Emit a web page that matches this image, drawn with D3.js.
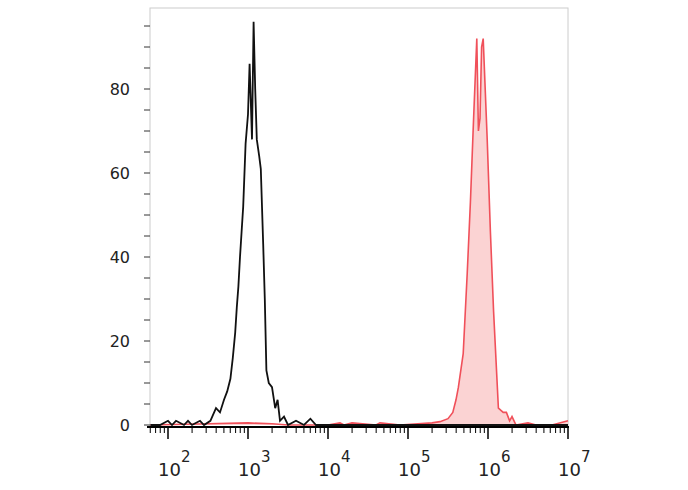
<!DOCTYPE html>
<html><head><meta charset="utf-8">
<script src="https://cdn.jsdelivr.net/npm/d3@7"></script>
<style>body{margin:0;background:#fff}text{font-family:"DejaVu Sans",sans-serif;fill:#222}</style>
</head><body><svg id="c" width="688" height="490"></svg>
<script>
// log10 of fluorescence and event counts
const controlX = [1.78,1.9,2.0,2.05,2.1,2.2,2.25,2.3,2.4,2.45,2.53,2.6,2.65,2.7,2.74,2.78,2.81,2.84,2.86,2.88,2.9,2.92,2.94,2.97,3.0,3.02,3.05,3.07,3.09,3.11,3.14,3.16,3.19,3.21,3.23,3.26,3.3,3.34,3.37,3.4,3.45,3.5,3.6,3.7,3.78,3.85,4.0,5.0,6.0,7.0]
const controlY = [0,0,1,0,1,0,1,0,1,0,1,4,3,6,8,11,16,22,28,33,40,46,52,67,74,86,68,96,80,68,64,61,43,30,13,10,9,4,6,1,2,0,1,0,1.5,0,0,0,0,0]
const stainedX = [1.78,2.5,3.0,3.3,3.5,4.0,4.15,4.2,4.3,4.6,4.65,4.9,5.3,5.4,5.5,5.56,5.6,5.63,5.69,5.74,5.78,5.82,5.86,5.88,5.9,5.92,5.94,5.99,6.03,6.07,6.13,6.19,6.23,6.27,6.3,6.35,6.5,6.6,6.8,7.0]
const stainedY = [0,0.3,0.5,0.3,0,0,0.5,0,0.5,0,0.5,0,0.5,0.8,1.5,3,6,9,17,36,53,73,92,70,73,90,92,68,46,27,4,3,3,1,2,0,0.5,0,0,1]
const yTicks = d3.range(0, 100, 5)
const yLabels = [0, 20, 40, 60, 80]
const decades = [2, 3, 4, 5, 6, 7]

const svg = d3.select("#c")
const x = d3.scaleLinear().domain([1.775, 7]).range([150, 568])
const y = d3.scaleLinear().domain([0, 80]).range([425, 89])

// frame
svg.append("rect").attr("x",150).attr("y",8).attr("width",418).attr("height",419)
  .attr("fill","none").attr("stroke","#ccc")

const line = d3.line().x(d=>x(d[0])).y(d=>y(d[1]))
const area = d3.area().x(d=>x(d[0])).y0(y(0)).y1(d=>y(d[1]))
const stained = stainedX.map((v,i)=>[v,stainedY[i]])
const control = controlX.map((v,i)=>[v,controlY[i]])

svg.append("path").attr("d",area(stained)).attr("fill","#fbd3d3")
svg.append("path").attr("d",line(stained)).attr("fill","none").attr("stroke","#f0505a").attr("stroke-width",1.6)
svg.append("path").attr("d",line(control)).attr("fill","none").attr("stroke","#111").attr("stroke-width",1.8)

// y axis ticks
svg.selectAll(".yt").data(yTicks).enter().append("line")
  .attr("x1",144).attr("x2",150).attr("y1",d=>y(d)).attr("y2",d=>y(d))
  .attr("stroke","#333")
svg.selectAll(".yl").data(yLabels).enter().append("text")
  .attr("x",130).attr("y",d=>y(d)+6).attr("text-anchor","end").attr("font-size",16).text(d=>d)

// x axis
svg.append("line").attr("x1",147).attr("x2",569).attr("y1",427).attr("y2",427).attr("stroke","#000").attr("stroke-width",2)
const minors = []
for (let k = 1; k <= 7; k++) for (let m = 2; m <= 9; m++) {
  const v = k + Math.log10(m); if (v > 1.775 && v < 7) minors.push(v)
}
svg.selectAll(".xm").data(minors).enter().append("line")
  .attr("x1",d=>x(d)).attr("x2",d=>x(d)).attr("y1",427).attr("y2",433).attr("stroke","#000")
svg.selectAll(".xM").data(decades).enter().append("line")
  .attr("x1",d=>x(d)).attr("x2",d=>x(d)).attr("y1",427).attr("y2",439).attr("stroke","#000").attr("stroke-width",1.5)
const lab = svg.selectAll(".xl").data(decades).enter().append("text")
  .attr("x",d=>x(d)-10).attr("y",476).attr("font-size",18)
lab.append("tspan").text("10")
lab.append("tspan").attr("dy",-14).attr("font-size",15).text(d=>d)
</script></body></html>
